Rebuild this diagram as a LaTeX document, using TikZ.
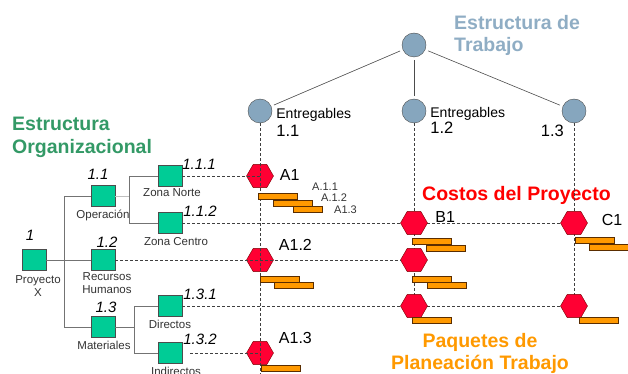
\documentclass[tikz,border=0pt]{standalone}
\usepackage{fontspec}
\setmainfont{Liberation Sans}
\usetikzlibrary{shapes.geometric,positioning}

\definecolor{wbsblue}{RGB}{134,166,190}
\definecolor{orggreen}{RGB}{0,204,150}
\definecolor{hexred}{RGB}{255,0,51}
\definecolor{hexborder}{RGB}{120,0,0}
\definecolor{barorange}{RGB}{255,153,0}
\definecolor{barborder}{RGB}{90,45,0}
\definecolor{titleblue}{RGB}{143,173,196}
\definecolor{titlegreen}{RGB}{51,153,102}

\begin{document}
\begin{tikzpicture}[x=1pt,y=-1pt,
    wbs/.style={circle,draw=black!70,fill=wbsblue,minimum size=24pt,inner sep=0pt},
    orgbox/.style={rectangle,draw=black!70,fill=orggreen,minimum width=24pt,minimum height=21pt,inner sep=0pt},
    pkg/.style={regular polygon,regular polygon sides=6,draw=hexborder,fill=hexred,minimum size=27pt,inner sep=0pt},
    bar/.style={rectangle,draw=barborder,fill=barorange,minimum width=39pt,minimum height=6pt,inner sep=0pt,anchor=north west},
    guide/.style={draw=black!75,dash pattern=on 3pt off 2pt,line width=0.6pt},
    tree/.style={draw=black!55,line width=0.9pt},
    treelight/.style={draw=black!25,line width=0.9pt},
    wbsline/.style={draw=black!70,line width=0.6pt,shorten >=3pt,shorten <=3pt},
    lbl/.style={font=\fontsize{11.5}{13}\selectfont,align=center,inner sep=0pt,text=black!80},
    num/.style={font=\fontsize{15}{15}\selectfont\itshape,inner sep=0pt},
    ent/.style={font=\fontsize{14}{14}\selectfont,inner sep=0pt},
    entnum/.style={font=\fontsize{16.5}{16.5}\selectfont,inner sep=0pt},
    pkglbl/.style={font=\fontsize{16}{16}\selectfont,inner sep=0pt},
    minilbl/.style={font=\fontsize{11}{11}\selectfont,inner sep=0pt,text=black!80,anchor=west},
    title/.style={font=\fontsize{19.5}{22.5}\selectfont\bfseries,inner sep=0pt}]

  \clip (0,0) rectangle (628,374);

  % titulos
  \node[title,text=titleblue,align=left,anchor=north west] (ttrab) at (454,15) {Estructura de\\Trabajo};
  \node[title,text=titlegreen,align=left,anchor=north west] (torg) at (12,117) {Estructura\\Organizacional};
  \node[title,text=red,anchor=west] (tcost) at (422,195) {Costos del Proyecto};
  \node[title,text=barorange,align=center,anchor=north,font=\fontsize{19.5}{22}\selectfont\bfseries] (tpaq) at (480,333) {Paquetes de\\Planeación Trabajo};

  % estructura de trabajo
  \node[wbs] (w)   at (414,45) {};
  \node[wbs] (w11) at (260,111) {};
  \node[wbs] (w12) at (414,111) {};
  \node[wbs] (w13) at (574,111) {};
  \path[wbsline] (w) edge (w11) edge (w12) edge (w13);

  \node[ent,right=4pt of w11,yshift=-4pt] (e11) {Entregables};
  \node[entnum,below right=3pt and 0pt of e11.south west] (n11) {1.1};
  \node[ent,right=4pt of w12,yshift=-3pt] (e12) {Entregables};
  \node[entnum,below right=1pt and 0pt of e12.south west] (n12) {1.2};
  \node[entnum,anchor=north east] (n13) at ([xshift=-10pt,yshift=-2pt]w13.south) {1.3};

  % estructura organizacional
  \node[orgbox] (px)   at (34,260) {};
  \node[orgbox] (s11)  at (103,196) {};
  \node[orgbox] (s12)  at (103,260) {};
  \node[orgbox] (s13)  at (103,327) {};
  \node[orgbox] (s111) at (170,176) {};
  \node[orgbox] (s112) at (170,223) {};
  \node[orgbox] (s131) at (170,306) {};
  \node[orgbox] (s132) at (170,353) {};

  \node[num,above=9pt of px,xshift=-4pt] (pxn) {1};
  \node[lbl,below=5pt of px,xshift=4pt] (pxl) {Proyecto\\X};
  \node[num,above=6pt of s11,xshift=-5pt] (s11n) {1.1};
  \node[lbl,below=3.5pt of s11] (s11l) {Operación};
  \node[num,above=2pt of s12,xshift=4pt] (s12n) {1.2};
  \node[lbl,below=1.5pt of s12,xshift=4pt] (s12l) {Recursos\\Humanos};
  \node[num,above=3pt of s13,xshift=3pt] (s13n) {1.3};
  \node[lbl,below=3pt of s13,xshift=1pt] (s13l) {Materiales};
  \node[num,above right=-4pt and 0pt of s111] (s111n) {1.1.1};
  \node[lbl,below=2pt of s111,xshift=2pt] (s111l) {Zona Norte};
  \node[num,above right=-4pt and 1pt of s112] (s112n) {1.1.2};
  \node[lbl,below=4pt of s112,xshift=6pt] (s112l) {Zona Centro};
  \node[num,above right=-5pt and 1pt of s131] (s131n) {1.3.1};
  \node[lbl,below=3.5pt of s131] (s131l) {Directos};
  \node[num,above right=-3pt and 1pt of s132] (s132n) {1.3.2};
  \node[lbl,below=3.5pt of s132,xshift=6pt] (s132l) {Indirectos};

  \draw[tree] (s11.west) -- ++(-26,0) |- (s13.west);
  \draw[tree] (px) -- (s12);
  \draw[treelight] (s11.east) -- ++(15,0);
  \draw[tree] (s111.west) -- ++(-28,0) |- (s112.west);
  \draw[tree] (s13.east) -- ++(20,0);
  \draw[tree] (s131.west) -- ++(-23,0) |- (s132.west);

  % paquetes
  \coordinate (b131c) at (414,306);
  \coordinate (c131c) at (574,306);
  \coordinate (c1c) at (574,223);
  \draw[guide] (w12) -- (b131c);
  \draw[guide] (w13) -- (c131c);
  \draw[guide] (s112) -- (c1c);
  \draw[guide] (s131) -- (c131c);

  \node[pkg] (a1)   at (260,176) {};
  \node[pkg] (b1)   at (414,223) {};
  \node[pkg] (c1)   at (c1c) {};
  \node[pkg] (a12)  at (260,260) {};
  \node[pkg] (b12)  at (414,260) {};
  \node[pkg] (b131) at (b131c) {};
  \node[pkg] (c131) at (c131c) {};
  \node[pkg] (a13)  at (260,353) {};
  \coordinate (vend) at (260,374);

  % lineas guia
  \draw[guide] (s111) -- (a1.center);
  \draw[guide] (s12) -- (b12);
  \draw[guide,shorten <=8pt] (s132) -- (a13.center);
  \draw[guide] (w11) -- (vend);

  \node[pkglbl,right=6pt of a1,yshift=1pt] (a1l) {A1};
  \node[pkglbl,right=7.5pt of b1,yshift=6pt] (b1l) {B1};
  \node[pkglbl,right=14pt of c1,yshift=3pt] (c1l) {C1};
  \node[pkglbl,right=5pt of a12,yshift=15pt] (a12l) {A1.2};
  \node[pkglbl,right=5pt of a13,yshift=15pt] (a13l) {A1.3};

  % barras
  \node[bar] (a1b1) at (258,193) {};
  \node[bar] (a1b2) at (273,200) {};
  \node[bar,minimum width=29pt] (a1b3) at (293,206) {};
  \node[minilbl] (a1t1) at (312,187) {A.1.1};
  \node[minilbl] (a1t2) at (321,198) {A.1.2};
  \node[minilbl] (a1t3) at (334,210) {A1.3};
  \node[bar] (b1b1) at (412,238) {};
  \node[bar] (b1b2) at (426,245) {};
  \node[bar] (c1b1) at (575,237) {};
  \node[bar] (c1b2) at (589,244) {};
  \node[bar] (a12b1) at (260,276) {};
  \node[bar] (a12b2) at (274,282) {};
  \node[bar] (b12b1) at (412,276) {};
  \node[bar] (b12b2) at (427,282) {};
  \node[bar] (b131b) at (412,317) {};
  \node[bar] (c131b) at (579,317) {};
  \node[bar] (a13b)  at (261,365) {};
\end{tikzpicture}
\end{document}
